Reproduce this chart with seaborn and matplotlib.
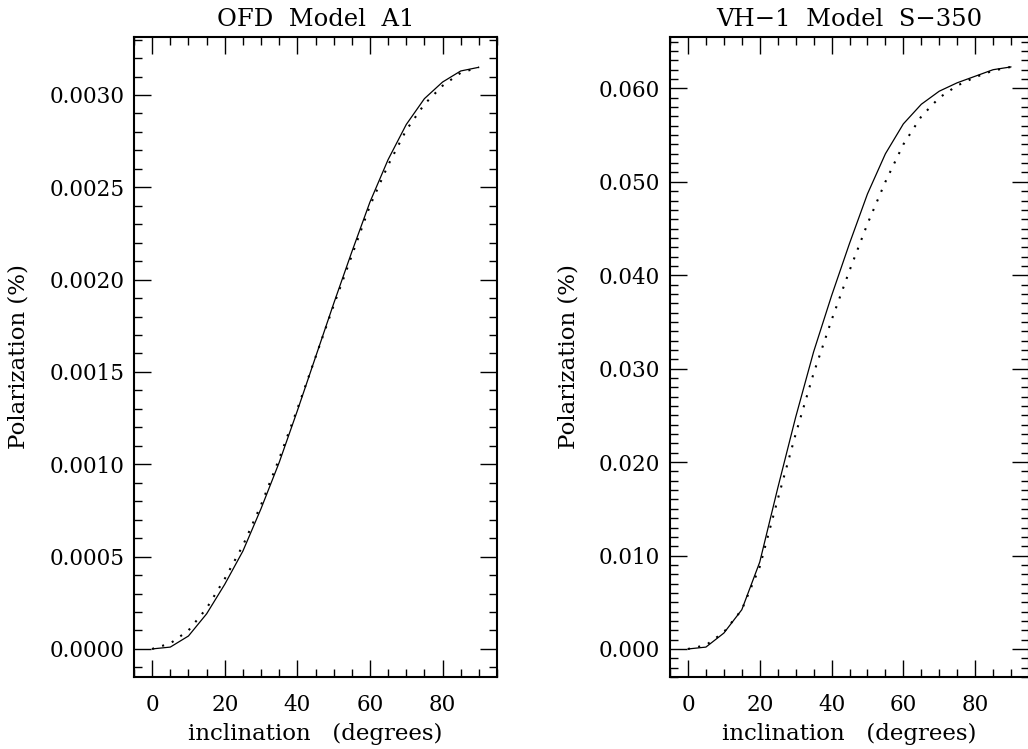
import numpy as np
import pandas as pd
import matplotlib
matplotlib.use("Agg")
import matplotlib.pyplot as plt
import seaborn as sns
from matplotlib.ticker import MultipleLocator, FormatStrFormatter

# ---- data ----
inclination = [0, 5, 10, 15, 20, 25, 30, 35, 40, 45, 50, 55, 60, 65, 70, 75, 80, 85, 90]

ofd_solid = [0.0, 0.00001, 0.00007, 0.00019, 0.00035, 0.00053, 0.00076, 0.00101,
             0.00129, 0.00158, 0.00187, 0.00215, 0.00242, 0.00265, 0.00284,
             0.00298, 0.00307, 0.00313, 0.00315]
ofd_dotted = [0.0, 0.00003, 0.00010, 0.00022, 0.00038, 0.00056, 0.00078, 0.00103,
              0.00130, 0.00158, 0.00186, 0.00213, 0.00240, 0.00262, 0.00281,
              0.00295, 0.00305, 0.00312, 0.00315]

vh1_solid = [0.0, 0.0002, 0.0017, 0.0042, 0.0093, 0.0172, 0.0248, 0.0318,
             0.0378, 0.0434, 0.0487, 0.0530, 0.0562, 0.0583, 0.0597, 0.0606,
             0.0613, 0.0620, 0.0623]
vh1_dotted = [0.0, 0.0004, 0.0018, 0.0042, 0.0088, 0.0160, 0.0230, 0.0295,
              0.0352, 0.0405, 0.0455, 0.0500, 0.0540, 0.0570, 0.0590, 0.0603,
              0.0612, 0.0619, 0.0623]

titles = ["OFD  Model  A1", "VH\u22121  Model  S\u2212350"]
xlabel = "inclination   (degrees)"
ylabel = "Polarization (%)"

sns.set_theme(style="ticks")
plt.rcParams["font.family"] = ["DejaVu Serif"]
plt.rcParams["axes.linewidth"] = 1.5
plt.rcParams["axes.edgecolor"] = "black"
plt.rcParams["text.color"] = "black"
plt.rcParams["axes.labelcolor"] = "black"
plt.rcParams["xtick.color"] = "black"
plt.rcParams["ytick.color"] = "black"

fig = plt.figure(figsize=(10.28, 7.49), dpi=100)
ax1 = fig.add_axes([134 / 1028, 72 / 749, 363 / 1028, 640 / 749])
ax2 = fig.add_axes([670 / 1028, 72 / 749, 359 / 1028, 640 / 749])

panels = [
    (ax1, ofd_solid, ofd_dotted, (-0.000152, 0.003314), 0.0005, 0.0001, "%.4f"),
    (ax2, vh1_solid, vh1_dotted, (-0.003, 0.0655), 0.010, 0.001, "%.3f"),
]

for (ax, solid, dotted, ylim, major, minor, fmt), title in zip(panels, titles):
    df_s = pd.DataFrame({"inclination": inclination, "P": solid})
    df_d = pd.DataFrame({"inclination": inclination, "P": dotted})
    sns.lineplot(data=df_s, x="inclination", y="P", ax=ax, color="black",
                 linewidth=0.9, linestyle="-")
    sns.lineplot(data=df_d, x="inclination", y="P", ax=ax, color="black",
                 linewidth=1.5, linestyle=(0, (1, 4)))
    ax.set_xlim(-5, 95)
    ax.set_ylim(*ylim)
    ax.xaxis.set_major_locator(MultipleLocator(20))
    ax.xaxis.set_minor_locator(MultipleLocator(5))
    ax.yaxis.set_major_locator(MultipleLocator(major))
    ax.yaxis.set_minor_locator(MultipleLocator(minor))
    ax.yaxis.set_major_formatter(FormatStrFormatter(fmt))
    ax.tick_params(which="both", direction="in", top=True, right=True,
                   colors="black", labelsize=15.5)
    ax.tick_params(which="major", length=12, width=1.0)
    ax.tick_params(which="minor", length=6, width=1.0)
    ax.tick_params(axis="x", which="major", pad=12)
    ax.tick_params(axis="y", which="major", pad=7)
    ax.set_xlabel(xlabel, fontsize=16.5, labelpad=5)
    ax.set_ylabel(ylabel, fontsize=16.5, labelpad=14)
    ax.set_title(title, fontsize=17.5, pad=8)
    for s in ax.spines.values():
        s.set_color("black")

fig.savefig("out.png", dpi=100, facecolor="white")
